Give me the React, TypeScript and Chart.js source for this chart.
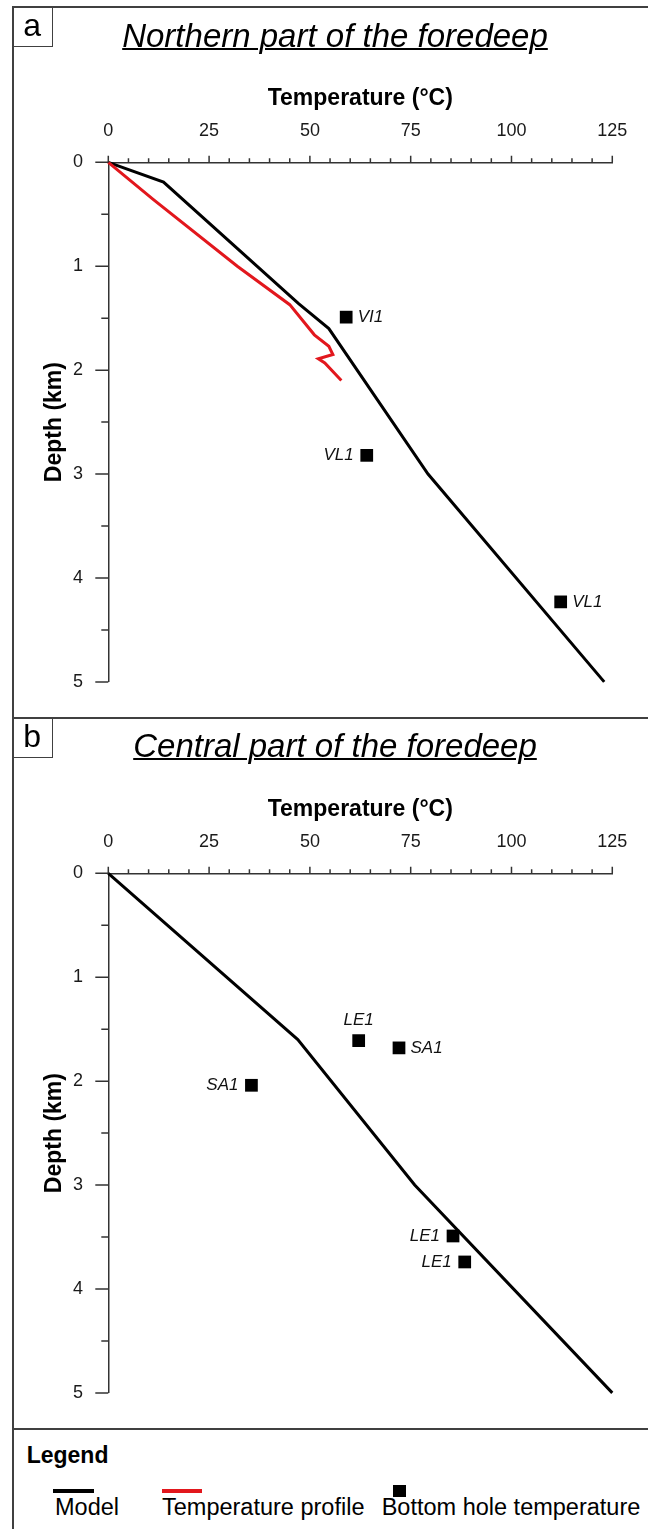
import React, { useEffect, useRef } from 'react';
import { Chart, registerables } from 'chart.js';

Chart.register(...registerables);

const FONT = '"Liberation Sans", Arial, Helvetica, sans-serif';
const AXIS = '#333333';
const FRAME = '#404040';
const RED = '#e2171d';

// ---- Panel a: Northern part of the foredeep ----
const northModelTemp = [0, 13.7, 47.2, 54.7, 79.3, 123];
const northModelDepth = [0, 0.19, 1.36, 1.6, 3.0, 5.0];
const northProfileTemp = [0, 11.2, 32, 45, 51.1, 54.7, 55.7, 52.1, 53.7, 57.8];
const northProfileDepth = [0, 0.36, 1.0, 1.37, 1.66, 1.77, 1.85, 1.89, 1.93, 2.1];
const northBhtTemp = [59.0, 64.1, 112.2];
const northBhtDepth = [1.49, 2.82, 4.23];
const northBhtWell = ['VI1', 'VL1', 'VL1'];
const northBhtSide = ['right', 'left', 'right'];

// ---- Panel b: Central part of the foredeep ----
const centralModelTemp = [0, 47, 76, 125];
const centralModelDepth = [0, 1.6, 3.0, 5.0];
const centralBhtTemp = [62.1, 72.1, 35.5, 85.5, 88.4];
const centralBhtDepth = [1.61, 1.68, 2.04, 3.49, 3.74];
const centralBhtWell = ['LE1', 'SA1', 'SA1', 'LE1', 'LE1'];
const centralBhtSide = ['above', 'right', 'left', 'left', 'left'];

// ---- Axes ----
const tempTicks = [0, 25, 50, 75, 100, 125];
const depthTicks = [0, 1, 2, 3, 4, 5];
const tempMinorStep = 5;
const depthMinorStep = 0.5;

const CANVAS_W = 648;
const CANVAS_H = 718;

type PanelProps = {
  top: number;
  modelT: number[];
  modelD: number[];
  profT?: number[];
  profD?: number[];
  bhtT: number[];
  bhtD: number[];
  wells: string[];
  sides: string[];
};

function Panel(props: PanelProps) {
  const ref = useRef<HTMLCanvasElement | null>(null);
  useEffect(() => {
    const { modelT, modelD, profT, profD, bhtT, bhtD, wells, sides } = props;
    const zip = (a: number[], b: number[]) => a.map((v, i) => ({ x: v, y: b[i] }));
    const datasets: any[] = [
      {
        label: 'Bottom hole temperature',
        data: zip(bhtT, bhtD),
        showLine: false,
        pointStyle: 'rect',
        pointRadius: 9,
        pointHoverRadius: 9,
        pointBackgroundColor: '#000',
        pointBorderWidth: 0,
        clip: false,
      },
    ];
    if (profT && profD) {
      datasets.push({
        label: 'Temperature profile',
        data: zip(profT, profD),
        showLine: true,
        borderColor: RED,
        borderWidth: 3,
        pointRadius: 0,
        tension: 0,
        clip: false,
      });
    }
    datasets.push({
      label: 'Model',
      data: zip(modelT, modelD),
      showLine: true,
      borderColor: '#000',
      borderWidth: 3,
      pointRadius: 0,
      tension: 0,
      clip: false,
    });

    const tickPlugin = {
      id: 'customTicks',
      afterDraw(chart: any) {
        const { ctx, chartArea } = chart;
        const xs = chart.scales.x;
        const ys = chart.scales.y;
        ctx.save();
        ctx.strokeStyle = AXIS;
        ctx.lineWidth = 1.5;
        ctx.beginPath();
        for (let v = 0; v <= 125 + 1e-9; v += tempMinorStep) {
          const major = tempTicks.includes(v);
          const px = xs.getPixelForValue(v);
          ctx.moveTo(px, chartArea.top);
          ctx.lineTo(px, chartArea.top - (major ? 6.5 : 4));
        }
        for (let v = 0; v <= 5 + 1e-9; v += depthMinorStep) {
          const major = depthTicks.includes(v);
          const py = ys.getPixelForValue(v);
          ctx.moveTo(chartArea.left, py);
          ctx.lineTo(chartArea.left - (major ? 13 : 7), py);
        }
        ctx.stroke();

        const meta = chart.getDatasetMeta(0);
        ctx.font = `italic 17px ${FONT}`;
        ctx.fillStyle = '#111';
        ctx.textBaseline = 'middle';
        meta.data.forEach((pt: any, i: number) => {
          const side = sides[i];
          if (side === 'right') {
            ctx.textAlign = 'left';
            ctx.fillText(wells[i], pt.x + 11.5, pt.y);
          } else if (side === 'left') {
            ctx.textAlign = 'right';
            ctx.fillText(wells[i], pt.x - 13, pt.y);
          } else {
            ctx.textAlign = 'center';
            ctx.fillText(wells[i], pt.x, pt.y - 20);
          }
        });
        ctx.restore();
      },
    };

    const chart = new Chart(ref.current as HTMLCanvasElement, {
      type: 'scatter',
      data: { datasets },
      options: {
        responsive: false,
        animation: false,
        events: [],
        layout: { padding: { left: 0, top: 0, right: CANVAS_W - 612.3, bottom: CANVAS_H - 688 } },
        plugins: { legend: { display: false }, tooltip: { enabled: false }, title: { display: false } },
        scales: {
          x: {
            type: 'linear',
            position: 'top',
            min: 0,
            max: 125,
            afterBuildTicks: (s: any) => {
              s.ticks = tempTicks.map((v) => ({ value: v }));
            },
            afterFit: (s: any) => {
              s.height = 162.3;
            },
            grid: { display: true, drawOnChartArea: false, drawTicks: false },
            border: { display: true, color: AXIS, width: 1.5 },
            ticks: {
              padding: 20.7,
              color: '#1a1a1a',
              font: { family: FONT, size: 18 },
              maxRotation: 0,
              autoSkip: false,
            },
            title: {
              display: true,
              text: 'Temperature (°C)',
              color: '#000',
              font: { family: FONT, size: 23, weight: 'bold', lineHeight: 1.2 },
              padding: { top: 84.9, bottom: 0 },
            },
          },
          y: {
            type: 'linear',
            reverse: true,
            min: 0,
            max: 5,
            afterBuildTicks: (s: any) => {
              s.ticks = depthTicks.map((v) => ({ value: v }));
            },
            afterFit: (s: any) => {
              s.width = 108.3;
            },
            grid: { display: true, drawOnChartArea: false, drawTicks: false },
            border: { display: true, color: AXIS, width: 1.5 },
            ticks: {
              padding: 25.3,
              color: '#1a1a1a',
              font: { family: FONT, size: 18 },
              autoSkip: false,
            },
            title: {
              display: true,
              text: 'Depth (km)',
              color: '#000',
              font: { family: FONT, size: 23, weight: 'bold', lineHeight: 1.2 },
              padding: { top: 40.5, bottom: 0 },
            },
          },
        },
      } as any,
      plugins: [tickPlugin],
    });
    return () => chart.destroy();
  }, []);

  return (
    <canvas
      ref={ref}
      width={CANVAS_W}
      height={CANVAS_H}
      style={{ position: 'absolute', left: 0, top: props.top, width: CANVAS_W, height: CANVAS_H }}
    />
  );
}

const abs = (s: React.CSSProperties): React.CSSProperties => ({ position: 'absolute', whiteSpace: 'nowrap', ...s });

export default function App() {
  return (
    <div
      style={{
        position: 'absolute',
        left: 0,
        top: 0,
        width: 648,
        height: 1529,
        overflow: 'hidden',
        background: '#fff',
        fontFamily: FONT,
        color: '#000',
      }}
    >
      <Panel
        top={0}
        modelT={northModelTemp}
        modelD={northModelDepth}
        profT={northProfileTemp}
        profD={northProfileDepth}
        bhtT={northBhtTemp}
        bhtD={northBhtDepth}
        wells={northBhtWell}
        sides={northBhtSide}
      />
      <Panel
        top={711}
        modelT={centralModelTemp}
        modelD={centralModelDepth}
        bhtT={centralBhtTemp}
        bhtD={centralBhtDepth}
        wells={centralBhtWell}
        sides={centralBhtSide}
      />

      {/* frames */}
      <div style={abs({ left: 11.7, top: 6.3, width: 2, height: 1529, background: FRAME })} />
      <div style={abs({ left: 11.7, top: 6.3, width: 640, height: 2, background: FRAME })} />
      <div style={abs({ left: 11.7, top: 717.3, width: 640, height: 2, background: FRAME })} />
      <div style={abs({ left: 11.7, top: 1428.3, width: 640, height: 2, background: FRAME })} />

      {/* panel label boxes */}
      <div style={abs({ left: 12, top: 6.5, width: 40.5, height: 40, border: `1.5px solid ${FRAME}`, boxSizing: 'border-box' })} />
      <div style={abs({ left: 12, top: 8.5, width: 40.5, fontSize: 32, lineHeight: '32px', textAlign: 'center' })}>a</div>
      <div style={abs({ left: 12, top: 717.5, width: 40.5, height: 40, border: `1.5px solid ${FRAME}`, boxSizing: 'border-box' })} />
      <div style={abs({ left: 12, top: 719.6, width: 40.5, fontSize: 32, lineHeight: '32px', textAlign: 'center' })}>b</div>

      {/* titles */}
      <div
        style={abs({
          left: 35,
          top: 18.8,
          width: 600,
          textAlign: 'center',
          fontSize: 33,
          lineHeight: '33px',
          fontStyle: 'italic',
          textDecoration: 'underline',
          textDecorationThickness: '2px',
        })}
      >
        Northern part of the foredeep
      </div>
      <div
        style={abs({
          left: 35,
          top: 728.8,
          width: 600,
          textAlign: 'center',
          fontSize: 33,
          lineHeight: '33px',
          fontStyle: 'italic',
          textDecoration: 'underline',
          textDecorationThickness: '2px',
        })}
      >
        Central part of the foredeep
      </div>

      {/* legend */}
      <div style={abs({ left: 26.7, top: 1443.8, fontSize: 23, lineHeight: '23px', fontWeight: 'bold' })}>Legend</div>
      <div style={abs({ left: 53.3, top: 1489, width: 40.7, height: 3.5, background: '#000' })} />
      <div style={abs({ left: 161.7, top: 1489, width: 40.6, height: 3.5, background: RED })} />
      <div style={abs({ left: 392.7, top: 1485, width: 13.3, height: 12.3, background: '#000' })} />
      <div style={abs({ left: 55, top: 1496.1, fontSize: 23.5, lineHeight: '23.5px' })}>Model</div>
      <div style={abs({ left: 162, top: 1496.1, fontSize: 23.5, lineHeight: '23.5px' })}>Temperature profile</div>
      <div style={abs({ left: 381.7, top: 1496.1, fontSize: 23.5, lineHeight: '23.5px' })}>Bottom hole temperature</div>
    </div>
  );
}
